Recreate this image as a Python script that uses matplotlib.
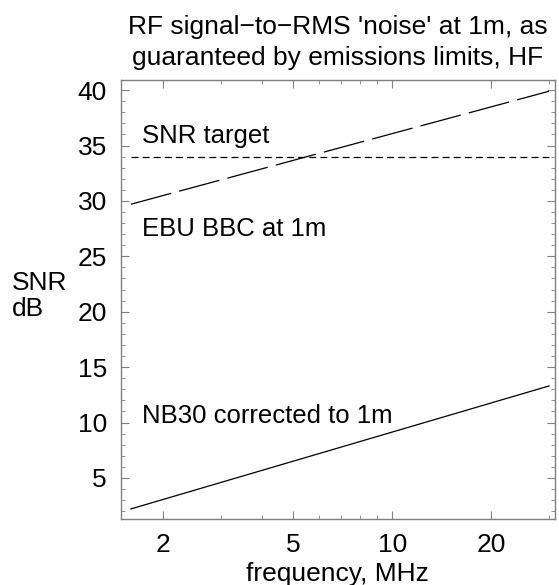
import matplotlib
matplotlib.use("Agg")
import matplotlib.pyplot as plt
import numpy as np

plt.rcParams['font.family'] = ['Liberation Sans', 'DejaVu Sans']
plt.rcParams['lines.scale_dashes'] = False

# data
freq = [1.6, 30.0]
nb30 = [2.2, 13.3]
ebu = [29.7, 39.9]
target = [34.0, 34.0]

major_x = [2, 5, 10, 20]
major_x_labels = ['2', '5', '10', '20']
minor_x = [3, 4, 6, 7, 8, 9, 30]
major_y = [5, 10, 15, 20, 25, 30, 35, 40]

fig = plt.figure(figsize=(5.59, 5.85), dpi=100)
ax = fig.add_axes([0.216, 0.113, 0.777, 0.750])

ax.plot(freq, nb30, color='black', lw=0.9)
ax.plot(freq, ebu, color='black', lw=0.9, ls=(0, (30, 6)))
ax.plot(freq, target, color='black', lw=0.9, ls=(0, (5, 3)))

ax.set_xscale('log')
ax.set_xlim(1.49, 31.3)
ax.set_ylim(1.3, 40.9)

ax.set_xticks(major_x)
ax.set_xticklabels(major_x_labels)
ax.set_xticks(minor_x, minor=True)
ax.set_xticklabels([], minor=True)
ax.set_yticks(major_y)
ax.set_yticks(np.arange(2, 41, 1), minor=True)

fs = 19
gray = '#808080'
for s in ax.spines.values():
    s.set_color(gray)
    s.set_linewidth(1.0)
ax.tick_params(which='both', direction='in', top=True, right=True,
               color=gray, labelsize=fs, labelcolor='black')
ax.tick_params(which='major', length=6, width=0.8, pad=10)
ax.tick_params(which='minor', length=3, width=0.6)

ax.text(1.735, 35.9, 'SNR target', fontsize=18.5, va='center')
ax.text(1.735, 27.5, 'EBU BBC at 1m', fontsize=18.5, va='center')
ax.text(1.735, 10.6, 'NB30 corrected to 1m', fontsize=18.5, va='center')

ax.set_title("RF signal\u2212to\u2212RMS 'noise' at 1m, as\nguaranteed by emissions limits, HF",
             fontsize=19, linespacing=1.35, pad=11)
ax.set_xlabel('frequency, MHz', fontsize=fs, labelpad=4)
fig.text(0.021, 0.494, 'SNR\ndB', fontsize=fs, ha='left', va='center', linespacing=1.1)

fig.savefig('out.png', dpi=100)
